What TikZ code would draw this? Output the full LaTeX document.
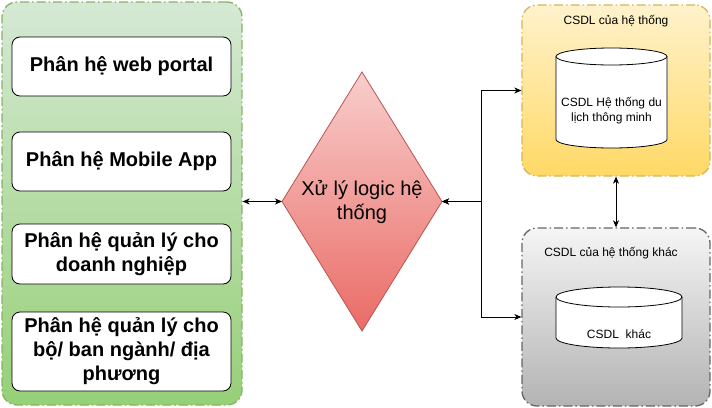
\documentclass[tikz,border=0pt]{standalone}
\usepackage{fontspec}
\setmainfont{Liberation Sans}
\usetikzlibrary{arrows.meta}
\definecolor{gTop}{HTML}{D5E8D4}
\definecolor{gBot}{HTML}{97D077}
\definecolor{gLine}{HTML}{82B366}
\definecolor{yTop}{HTML}{FFF2CC}
\definecolor{yBot}{HTML}{FFD966}
\definecolor{yLine}{HTML}{D6B656}
\definecolor{kTop}{HTML}{F5F5F5}
\definecolor{kBot}{HTML}{B3B3B3}
\definecolor{kLine}{HTML}{666666}
\definecolor{rTop}{HTML}{F8CECC}
\definecolor{rBot}{HTML}{EA6B66}
\definecolor{rLine}{HTML}{B85450}
\begin{document}
\begin{tikzpicture}[x=1pt,y=-1pt,
  panel/.style={rectangle, rounded corners=15pt, line width=1.3pt,
    dash pattern=on 9pt off 3pt on 1.5pt off 3pt, inner sep=0pt},
  modbox/.style={rectangle, rounded corners=8pt, draw=black, fill=white,
    line width=0.8pt, minimum width=219pt, inner sep=0pt, align=center,
    font=\fontsize{20}{24}\selectfont\bfseries},
  small/.style={align=center, inner sep=0pt, font=\fontsize{12}{15}\selectfont},
  biarrow/.style={{Stealth[length=7pt,width=6pt,inset=2pt]}-{Stealth[length=7pt,width=6pt,inset=2pt]}, line width=0.8pt},
  cylpath/.style={draw=black, fill=white, line width=0.8pt}
]
\useasboundingbox (0,0) rectangle (712,407);

% left panel
\node[panel, draw=gLine, top color=gTop, bottom color=gBot,
  minimum width=240pt, minimum height=403pt] (left) at (122,203.5) {};
\node[modbox, minimum height=59pt] (b1) at (121.5,66.5) {Phân hệ web portal};
\node[modbox, minimum height=59pt] (b2) at (121.5,161.5) {Phân hệ Mobile App};
\node[modbox, minimum height=60pt] (b3) at (121.5,254) {Phân hệ quản lý cho\\doanh nghiệp};
\node[modbox, minimum height=79pt] (b4) at (121.5,351.5) {Phân hệ quản lý cho\\bộ/ ban ngành/ địa\\phương};

% diamond
\coordinate (diaN) at (362,72);
\coordinate (diaE) at (442,201.5);
\coordinate (diaS) at (362,331);
\coordinate (diaW) at (282,201.5);
\path[draw=rLine, line width=0.8pt, top color=rTop, bottom color=rBot]
  (diaN) -- (diaE) -- (diaS) -- (diaW) -- cycle;
\node[align=center, inner sep=0pt, font=\fontsize{20}{24}\selectfont] (dia) at (362,202) {Xử lý logic hệ\\thống};

% right panels
\node[panel, draw=yLine, top color=yTop, bottom color=yBot,
  minimum width=188pt, minimum height=171pt] (db1) at (616,90.5) {};
\node[panel, draw=kLine, top color=kTop, bottom color=kBot,
  minimum width=188pt, minimum height=178pt] (db2) at (616,317) {};
\node[small] (t1) at (616,21) {CSDL của hệ thống};
\node[small] (t2) at (611,253) {CSDL của hệ thống khác};

% cylinder 1
\path[cylpath] (556,56.5) -- (556,139.5) arc (180:360:55.5pt and 8.5pt)
  -- (667,56.5) arc (0:180:55.5pt and 8.5pt) -- cycle;
\draw[line width=0.8pt] (556,56.5) arc (180:360:55.5pt and 8.5pt);
\node[small] (c1) at (611.5,110.5) {CSDL Hệ thống du\\lịch thông minh};

% cylinder 2
\path[cylpath] (556,297) -- (556,338) arc (180:360:63pt and 10pt)
  -- (682,297) arc (0:180:63pt and 10pt) -- cycle;
\draw[line width=0.8pt] (556,297) arc (180:360:63pt and 10pt);
\node[small] (c2) at (619,334) {CSDL\ \ khác};

% connectors
\draw[biarrow] (left.east |- diaW) -- (diaW);
\draw[biarrow] (diaE) -- ++(39,0) |- (db1.west);
\draw[biarrow] (diaE) -- ++(39,0) |- (db2.west);
\draw[biarrow] (db1.south) -- (db2.north);
\end{tikzpicture}
\end{document}
